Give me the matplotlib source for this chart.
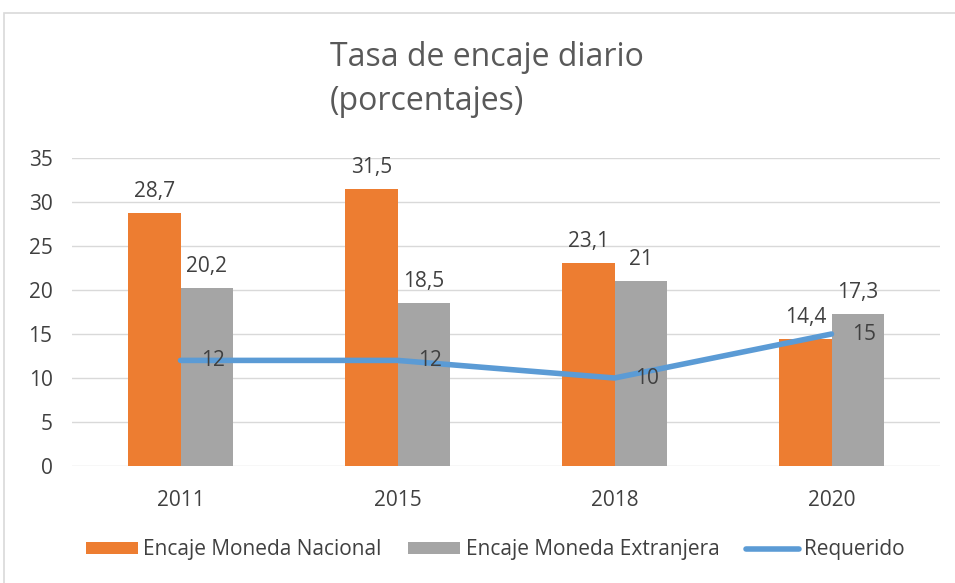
import matplotlib
matplotlib.use("Agg")
import matplotlib.pyplot as plt
from matplotlib.patches import Rectangle
import numpy as np

plt.rcParams['font.family'] = ['Open Sans', 'DejaVu Sans']

categories = ["2011", "2015", "2018", "2020"]
nacional = [28.7, 31.5, 23.1, 14.4]
extranjera = [20.2, 18.5, 21, 17.3]
requerido = [12, 12, 10, 15]
nac_labels = ["28,7", "31,5", "23,1", "14,4"]
ext_labels = ["20,2", "18,5", "21", "17,3"]
req_labels = ["12", "12", "10", "15"]

c_or = "#ED7D31"
c_gr = "#A5A5A5"
c_bl = "#5B9BD5"
tc = "#404040"

fig = plt.figure(figsize=(9.55, 5.83), dpi=100)
fig.patches.append(Rectangle((4/955, -0.1), 1.1, 1 - 13/583 + 0.1, transform=fig.transFigure,
                             fill=False, edgecolor="#d9d9d9", lw=1.2))
ax = fig.add_axes([72/955, 1 - 466/583, 868/955, (466 - 158)/583])
x = np.arange(len(categories))
w = 0.24
b1 = ax.bar(x - w/2, nacional, w, color=c_or, label="Encaje Moneda Nacional", zorder=2)
b2 = ax.bar(x + w/2, extranjera, w, color=c_gr, label="Encaje Moneda Extranjera", zorder=2)
l1, = ax.plot(x, requerido, color=c_bl, lw=4, label="Requerido", zorder=3, solid_capstyle='round')

fs = 15
for i in range(len(x)):
    ax.annotate(nac_labels[i], (x[i] - w/2, nacional[i]), xytext=(0, 8), textcoords="offset points",
                ha="center", va="bottom", fontsize=fs, color=tc, zorder=4)
    ax.annotate(ext_labels[i], (x[i] + w/2, extranjera[i]), xytext=(0, 8), textcoords="offset points",
                ha="center", va="bottom", fontsize=fs, color=tc, zorder=4)
    ax.annotate(req_labels[i], (x[i], requerido[i]), xytext=(15, 0), textcoords="offset points",
                ha="left", va="center", fontsize=fs, color=tc, zorder=4)

ax.set_xlim(-0.5, 3.5)
ax.set_ylim(0, 35)
ax.set_yticks(range(0, 36, 5))
ax.set_xticks(x)
ax.set_xticklabels(categories)
ax.tick_params(axis="both", length=0, labelsize=fs, colors=tc)
ax.tick_params(axis="y", pad=14)
ax.tick_params(axis="x", pad=17)
ax.grid(axis="y", color="#d9d9d9", lw=1, zorder=0)
ax.set_axisbelow(True)
for s in ax.spines.values():
    s.set_visible(False)

fig.text(330/955, 1 - 58/583, "Tasa de encaje diario", fontsize=23, color="#595959", ha="left", va="center")
fig.text(330/955, 1 - 102/583, "(porcentajes)", fontsize=23, color="#595959", ha="left", va="center")

leg = fig.legend([b1, b2, l1], ["Encaje Moneda Nacional", "Encaje Moneda Extranjera", "Requerido"],
                 loc="center", bbox_to_anchor=(495/955, 1 - 550/583), ncol=3, frameon=False,
                 fontsize=fs, handlelength=2.5, handleheight=0.45, handletextpad=0.25,
                 columnspacing=1.3, borderpad=0)
for t in leg.get_texts():
    t.set_color(tc)

fig.savefig("out.png", dpi=100)
